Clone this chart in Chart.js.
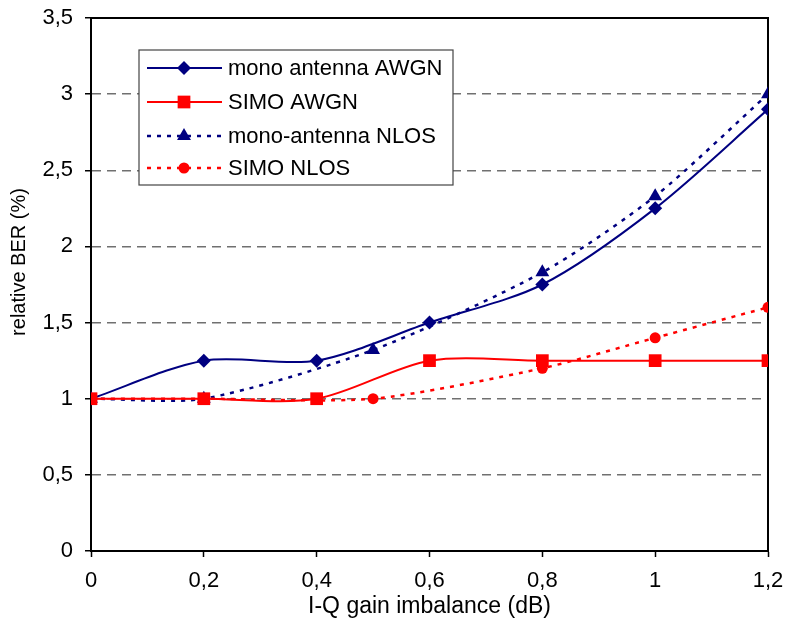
<!DOCTYPE html>
<html>
<head>
<meta charset="utf-8">
<script src="https://cdn.jsdelivr.net/npm/chart.js@4.4.0/dist/chart.umd.min.js"></script>
<style>
html, body { margin: 0; padding: 0; background: #fff; }
</style>
</head>
<body>
<canvas id="berChart" width="787" height="621"></canvas>
<script>
// values
var xAwgn = [0, 0.2, 0.4, 0.6, 0.8, 1, 1.2];
var xNlos = [0, 0.2, 0.5, 0.8, 1, 1.2];
var monoAwgn = [1, 1.25, 1.25, 1.5, 1.75, 2.25, 2.9];
var simoAwgn = [1, 1, 1, 1.25, 1.25, 1.25, 1.25];
var monoNlos = [1, 1, 1.32, 1.83, 2.33, 3.0];
var simoNlos = [1, 1, 1, 1.2, 1.4, 1.6];
var seriesLabels = ['mono antenna AWGN', 'SIMO AWGN', 'mono-antenna NLOS', 'SIMO NLOS'];
var xTitle = 'I-Q gain imbalance (dB)';
var yTitle = 'relative BER (%)';

var navy = '#000080';
var red = '#ff0000';

function pairUp(xs, ys) {
  return xs.map(function (x, i) { return { x: x, y: ys[i] }; });
}

function comma(v) {
  return String(Math.round(v * 10) / 10).replace('.', ',');
}

// little marker painter for the legend
function marker(ctx, style, r, x, y, color) {
  ctx.save();
  ctx.fillStyle = color;
  ctx.beginPath();
  if (style === 'rectRot') {
    ctx.moveTo(x, y - r); ctx.lineTo(x + r, y); ctx.lineTo(x, y + r); ctx.lineTo(x - r, y);
  } else if (style === 'rect') {
    var s = r * Math.SQRT1_2;
    ctx.rect(x - s, y - s, 2 * s, 2 * s);
  } else if (style === 'triangle') {
    ctx.moveTo(x, y - r);
    ctx.lineTo(x + r * Math.sin(Math.PI / 3), y + r / 2);
    ctx.lineTo(x - r * Math.sin(Math.PI / 3), y + r / 2);
  } else {
    ctx.arc(x, y, r, 0, Math.PI * 2);
  }
  ctx.closePath();
  ctx.fill();
  ctx.restore();
}

// top and right edges of the plot frame
var frameBox = {
  id: 'frameBox',
  beforeDatasetsDraw: function (chart) {
    var a = chart.chartArea, ctx = chart.ctx;
    ctx.save();
    ctx.strokeStyle = '#000';
    ctx.lineWidth = 2;
    ctx.beginPath();
    ctx.moveTo(a.left, a.top);
    ctx.lineTo(a.right, a.top);
    ctx.lineTo(a.right, a.bottom);
    ctx.stroke();
    ctx.restore();
  }
};

// y title sits a bit above the middle in the original
var sideTitle = {
  id: 'sideTitle',
  afterDraw: function (chart) {
    var ctx = chart.ctx;
    ctx.save();
    ctx.translate(19, 262);
    ctx.rotate(-Math.PI / 2);
    ctx.fillStyle = '#000';
    ctx.font = '20px "Liberation Sans", Arial, sans-serif';
    ctx.textAlign = 'center';
    ctx.textBaseline = 'middle';
    ctx.fillText(yTitle, 0, 0);
    ctx.restore();
  }
};

// legend box sitting inside the plot
var insideLegend = {
  id: 'insideLegend',
  afterDraw: function (chart) {
    var ctx = chart.ctx;
    var bx = 139, by = 50, bw = 314, bh = 135;
    ctx.save();
    ctx.fillStyle = '#fff';
    ctx.fillRect(bx, by, bw, bh);
    ctx.strokeStyle = '#444';
    ctx.lineWidth = 1.2;
    ctx.strokeRect(bx, by, bw, bh);
    var rows = [68, 102, 136, 168];
    chart.data.datasets.forEach(function (ds, i) {
      var y = rows[i];
      ctx.strokeStyle = ds.borderColor;
      ctx.lineWidth = ds.borderWidth;
      ctx.setLineDash(ds.borderDash || []);
      ctx.beginPath();
      ctx.moveTo(147, y);
      ctx.lineTo(222, y);
      ctx.stroke();
      ctx.setLineDash([]);
      marker(ctx, ds.pointStyle, ds.pointRadius, 184, y, ds.pointBackgroundColor);
      ctx.fillStyle = '#000';
      ctx.font = '22px "Liberation Sans", Arial, sans-serif';
      ctx.textBaseline = 'middle';
      ctx.fillText(ds.label, 228, y + 1);
    });
    ctx.restore();
  }
};

Chart.defaults.font.family = '"Liberation Sans", Arial, sans-serif';
Chart.defaults.color = '#000';

var ctxBer = document.getElementById('berChart').getContext('2d');
var chartBer = new Chart(ctxBer, {
  type: 'line',
  data: {
    datasets: [{
      label: seriesLabels[0],
      data: pairUp(xAwgn, monoAwgn),
      borderColor: navy,
      backgroundColor: navy,
      pointBackgroundColor: navy,
      pointBorderWidth: 0,
      borderWidth: 2,
      pointStyle: 'rectRot',
      pointRadius: 7,
      tension: 0.3,
      order: 2
    }, {
      label: seriesLabels[1],
      data: pairUp(xAwgn, simoAwgn),
      borderColor: red,
      backgroundColor: red,
      pointBackgroundColor: red,
      pointBorderWidth: 0,
      borderWidth: 2,
      pointStyle: 'rect',
      pointRadius: 9,
      tension: 0.3,
      order: 1
    }, {
      label: seriesLabels[2],
      data: pairUp(xNlos, monoNlos),
      borderColor: navy,
      backgroundColor: navy,
      pointBackgroundColor: navy,
      pointBorderWidth: 0,
      borderWidth: 2.5,
      borderDash: [4, 6],
      pointStyle: 'triangle',
      pointRadius: 8,
      tension: 0.25,
      order: 4
    }, {
      label: seriesLabels[3],
      data: pairUp(xNlos, simoNlos),
      borderColor: red,
      backgroundColor: red,
      pointBackgroundColor: red,
      pointBorderWidth: 0,
      borderWidth: 2.5,
      borderDash: [4, 6],
      pointStyle: 'circle',
      pointRadius: 5.5,
      tension: 0.25,
      order: 3
    }]
  },
  options: {
    responsive: false,
    animation: false,
    layout: { padding: { top: 18, right: 19, left: 0, bottom: 0 } },
    plugins: {
      legend: { display: false },
      tooltip: { enabled: false }
    },
    scales: {
      x: {
        type: 'linear',
        min: 0,
        max: 1.2,
        afterFit: function (scale) {
          scale.height = 70;
          scale.paddingLeft = 0;
          scale.paddingRight = 0;
        },
        afterBuildTicks: function (scale) {
          scale.ticks = xAwgn.map(function (v) { return { value: v }; });
        },
        ticks: {
          callback: function (v) { return comma(v); },
          font: { size: 22 },
          padding: 11,
          maxRotation: 0
        },
        grid: {
          drawOnChartArea: false,
          drawTicks: true,
          tickLength: 6,
          tickColor: '#000',
          tickWidth: 1.5
        },
        border: { display: true, color: '#000', width: 2 },
        title: {
          display: true,
          text: xTitle,
          font: { size: 23 },
          padding: { top: 0, bottom: 1 }
        }
      },
      y: {
        min: 0,
        max: 3.5,
        afterFit: function (scale) {
          scale.width = 91;
          scale.paddingTop = 0;
          scale.paddingBottom = 0;
        },
        ticks: {
          stepSize: 0.5,
          callback: function (v) { return comma(v); },
          font: { size: 22 },
          padding: 12
        },
        grid: {
          color: function (c) {
            var v = c.tick ? c.tick.value : null;
            return (v === 0 || v === 3.5) ? 'rgba(0,0,0,0)' : '#707070';
          },
          lineWidth: 1.5,
          tickLength: 6,
          tickColor: '#000',
          tickWidth: 1.5,
          tickBorderDash: []
        },
        border: { display: true, color: '#000', width: 2, dash: [9, 6] },
        title: { display: false }
      }
    }
  },
  plugins: [frameBox, sideTitle, insideLegend]
});
</script>
</body>
</html>
